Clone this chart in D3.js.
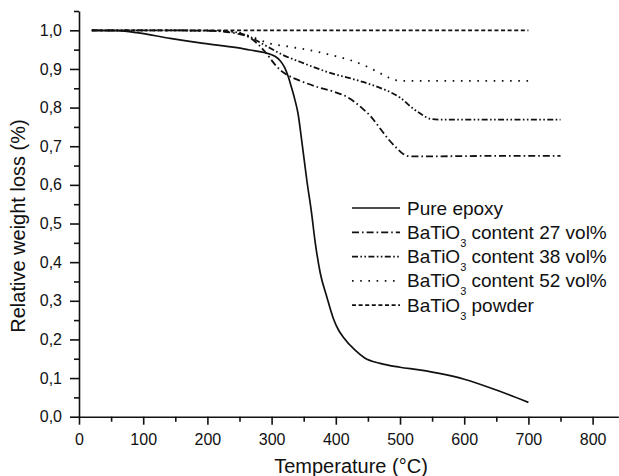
<!DOCTYPE html>
<html>
<head>
<meta charset="utf-8">
<script src="https://cdn.jsdelivr.net/npm/d3@7"></script>
<style>
  body { margin: 0; background: #fff; }
  svg { display: block; font-family: "Liberation Sans", Arial, Helvetica, sans-serif; }
</style>
</head>
<body>
<div id="chart"></div>
<script>
var width = 619, height = 476;

var pureEpoxy = [[20,1.0],[60,0.999],[90,0.994],[142,0.979],[194,0.966],[246,0.955],[266,0.949],[290,0.942],
  [305,0.933],[313,0.922],[320,0.905],[326,0.88],[331,0.852],[336,0.822],[341,0.786],[348,0.70],[355,0.61],
  [362,0.53],[368,0.45],[376,0.37],[386,0.31],[396,0.255],[404,0.225],[412,0.205],[430,0.172],[445,0.152],
  [469,0.138],[500,0.128],[530,0.121],[567,0.110],[600,0.097],[650,0.069],[700,0.037]];
var content27 = [[20,1.0],[100,1.0],[200,0.999],[250,0.99],[265,0.982],[280,0.962],[292,0.94],[305,0.912],
  [315,0.895],[323,0.886],[345,0.869],[370,0.854],[395,0.842],[417,0.828],[440,0.80],[455,0.776],[469,0.746],
  [482,0.718],[495,0.695],[505,0.68],[515,0.674],[560,0.674],[650,0.675],[750,0.675]];
var content38 = [[20,1.0],[100,1.0],[200,0.999],[240,0.996],[266,0.983],[290,0.961],[318,0.936],[345,0.918],
  [370,0.902],[395,0.888],[422,0.876],[445,0.865],[469,0.851],[485,0.84],[500,0.826],[520,0.798],[535,0.781],
  [547,0.771],[560,0.769],[650,0.769],[750,0.769]];
var content52 = [[20,1.0],[100,1.0],[200,0.999],[240,0.997],[266,0.985],[297,0.966],[330,0.957],[370,0.945],
  [400,0.933],[422,0.923],[450,0.905],[469,0.889],[482,0.878],[492,0.871],[510,0.869],[600,0.869],[700,0.869]];
var powder = [[20,1.0],[200,1.0],[400,1.0],[600,1.0],[700,1.0]];

var seriesNames = ["Pure epoxy", "BaTiO3 content 27 vol%", "BaTiO3 content 38 vol%", "BaTiO3 content 52 vol%", "BaTiO3 powder"];
var seriesData = [pureEpoxy, content27, content38, content52, powder];
var seriesDash = [null, "7,3,1.6,3", "6,2.4,1.6,2.4,1.6,2.4", "1.6,6.6", "4,2.6"];

var xTicks = d3.range(0, 801, 100);
var xMinor = d3.range(50, 801, 100);
var yTicks = d3.range(0, 11).map(function(d) { return d / 10; });
var yMinor = d3.range(0, 11).map(function(d) { return d / 10 + 0.05; });

var x = d3.scaleLinear().domain([0, 840]).range([79, 618.3]);
var y = d3.scaleLinear().domain([0, 1.05]).range([416.7, 11]);

var comma = d3.formatLocale({decimal: ",", thousands: ".", grouping: [3], currency: ["", ""]}).format(".1f");

var svg = d3.select("#chart").append("svg")
  .attr("width", width)
  .attr("height", height);

// axes
var xAxis = svg.append("g")
  .attr("transform", "translate(0," + y(0) + ")")
  .call(d3.axisBottom(x).tickValues(xTicks).tickSize(8).tickSizeOuter(0).tickPadding(9));
svg.append("g")
  .attr("transform", "translate(0," + y(0) + ")")
  .call(d3.axisBottom(x).tickValues(xMinor).tickSize(5).tickFormat("").tickSizeOuter(0))
  .select(".domain").remove();

var yAxis = svg.append("g")
  .attr("transform", "translate(" + x(0) + ",0)")
  .call(d3.axisLeft(y).tickValues(yTicks).tickSize(9).tickSizeOuter(0).tickPadding(8).tickFormat(comma));
svg.append("g")
  .attr("transform", "translate(" + x(0) + ",0)")
  .call(d3.axisLeft(y).tickValues(yMinor).tickSize(5).tickFormat("").tickSizeOuter(0))
  .select(".domain").remove();

svg.selectAll(".domain, .tick line")
  .attr("stroke", "#111")
  .attr("stroke-width", 1.6);
svg.selectAll(".tick text")
  .attr("fill", "#111")
  .attr("font-size", "16px")
  .attr("font-family", "Liberation Sans, Arial, sans-serif");

svg.append("text")
  .attr("x", 351)
  .attr("y", 473)
  .attr("text-anchor", "middle")
  .attr("font-size", "20px")
  .attr("fill", "#111")
  .text("Temperature (°C)");

svg.append("text")
  .attr("transform", "translate(25,226) rotate(-90)")
  .attr("text-anchor", "middle")
  .attr("font-size", "20px")
  .attr("fill", "#111")
  .text("Relative weight loss (%)");

// curves
var line = d3.line()
  .x(function(d) { return x(d[0]); })
  .y(function(d) { return y(d[1]); })
  .curve(d3.curveMonotoneX);

svg.selectAll(".curve")
  .data(seriesData)
  .enter()
  .append("path")
  .attr("class", "curve")
  .attr("d", line)
  .attr("fill", "none")
  .attr("stroke", "#111")
  .attr("stroke-width", function(d, i) { return i == 0 ? 1.7 : 1.8; })
  .attr("stroke-dasharray", function(d, i) { return seriesDash[i]; });

// legend
var legend = svg.append("g").attr("transform", "translate(352,208)");
var rows = legend.selectAll("g")
  .data(seriesNames)
  .enter()
  .append("g")
  .attr("transform", function(d, i) { return "translate(0," + (i * 24.3) + ")"; });

rows.append("line")
  .attr("x1", 0).attr("x2", 48)
  .attr("y1", 0).attr("y2", 0)
  .attr("stroke", "#111")
  .attr("stroke-width", function(d, i) { return i == 0 ? 1.7 : 1.8; })
  .attr("stroke-dasharray", function(d, i) { return seriesDash[i]; });

rows.append("text")
  .attr("x", 55)
  .attr("y", 6.5)
  .attr("font-size", "19px")
  .attr("fill", "#111")
  .each(function(d) {
    var t = d3.select(this);
    var k = d.indexOf("O3");
    if (k < 0) { t.text(d); return; }
    t.append("tspan").text(d.slice(0, k + 1));
    t.append("tspan").attr("font-size", "11px").attr("dy", 8).text("3");
    t.append("tspan").attr("dy", -8).text(d.slice(k + 2));
  });
</script>
</body>
</html>
